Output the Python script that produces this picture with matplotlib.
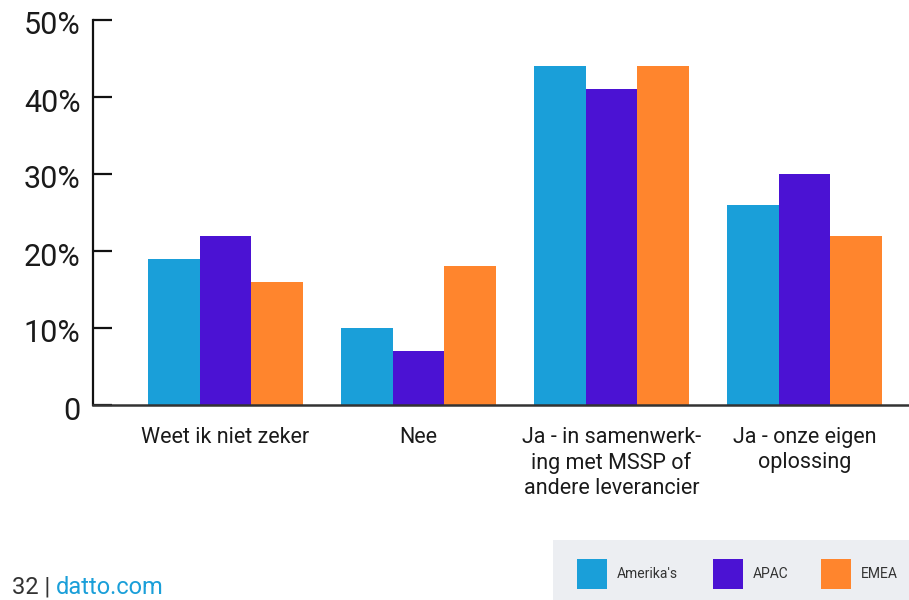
import matplotlib
matplotlib.use("Agg")
import matplotlib.pyplot as plt
import matplotlib.transforms as mtransforms
from matplotlib.patches import Rectangle
import numpy as np

categories = [
    "Weet ik niet zeker",
    "Nee",
    "Ja - in samenwerk-\ning met MSSP of\nandere leverancier",
    "Ja - onze eigen\noplossing",
]
series_names = ["Amerika's", "APAC", "EMEA"]
amerikas = [19, 10, 44, 26]
apac = [22, 7, 41, 30]
emea = [16, 18, 44, 22]
colors = ["#1A9FD9", "#4B12D3", "#FF852D"]
yticks = [0, 10, 20, 30, 40, 50]
ytick_labels = ["0", "10%", "20%", "30%", "40%", "50%"]

plt.rcParams["font.family"] = ["Roboto", "DejaVu Sans"]

W, H = 909, 600
fig = plt.figure(figsize=(W / 100, H / 100), dpi=100)

# axes box in pixel coordinates
left_px, right_px = 93, 909
top_px, bottom_px = 20, 405
ax = fig.add_axes([left_px / W, 1 - bottom_px / H,
                   (right_px - left_px) / W, (bottom_px - top_px) / H])

x = np.arange(len(categories))
bw = 0.267
for i, (vals, c) in enumerate(zip([amerikas, apac, emea], colors)):
    ax.bar(x + (i - 1) * bw, vals, width=bw, color=c, linewidth=0, zorder=2)

group_px = 193.0
x0 = -(225.5 - left_px) / group_px
ax.set_xlim(x0, x0 + (right_px - left_px) / group_px)
ax.set_ylim(0, 50)

for s in ["top", "right"]:
    ax.spines[s].set_visible(False)
ax.spines["left"].set_color("#111111")
ax.spines["left"].set_linewidth(1.6)
ax.spines["bottom"].set_color("#333333")
ax.spines["bottom"].set_linewidth(1.8)
ax.spines["bottom"].set_zorder(3)

ax.set_yticks(yticks)
ax.set_yticklabels(ytick_labels)
ax.tick_params(axis="y", direction="in", length=14, width=1.6, color="#111111",
               labelsize=22, pad=9, labelcolor="#1a1a1a")
shift = mtransforms.ScaledTranslation(0, -3 / 100, fig.dpi_scale_trans)
for lbl in ax.get_yticklabels():
    lbl.set_transform(lbl.get_transform() + shift)

ax.set_xticks(x)
ax.set_xticklabels(categories, fontsize=15.5, color="#1a1a1a", linespacing=1.25)
ax.tick_params(axis="x", length=0, pad=16)

# legend panel
fig.patches.append(Rectangle((553 / W, 0), (W - 553) / W, 60 / H,
                             transform=fig.transFigure, facecolor="#ECEEF2",
                             edgecolor="none", zorder=0))
sw_x = [577, 713, 821]
for name, c, px in zip(series_names, colors, sw_x):
    fig.patches.append(Rectangle((px / W, 1 - 589 / H), 30 / W, 30 / H,
                                 transform=fig.transFigure, facecolor=c,
                                 edgecolor="none", zorder=1))
    fig.text((px + 40) / W, 1 - 574 / H, name, fontsize=10, color="#333333",
             va="center", ha="left")

# page footer
t = fig.text(12 / W, 1 - 587 / H, "32 | ", fontsize=17, color="#333333",
             va="center", ha="left")
fig.canvas.draw()
bb = t.get_window_extent()
fig.text(bb.x1 / W, 1 - 587 / H, "datto.com", fontsize=17, color="#1A9FD9",
         va="center", ha="left")

fig.savefig("out.png", dpi=100)
